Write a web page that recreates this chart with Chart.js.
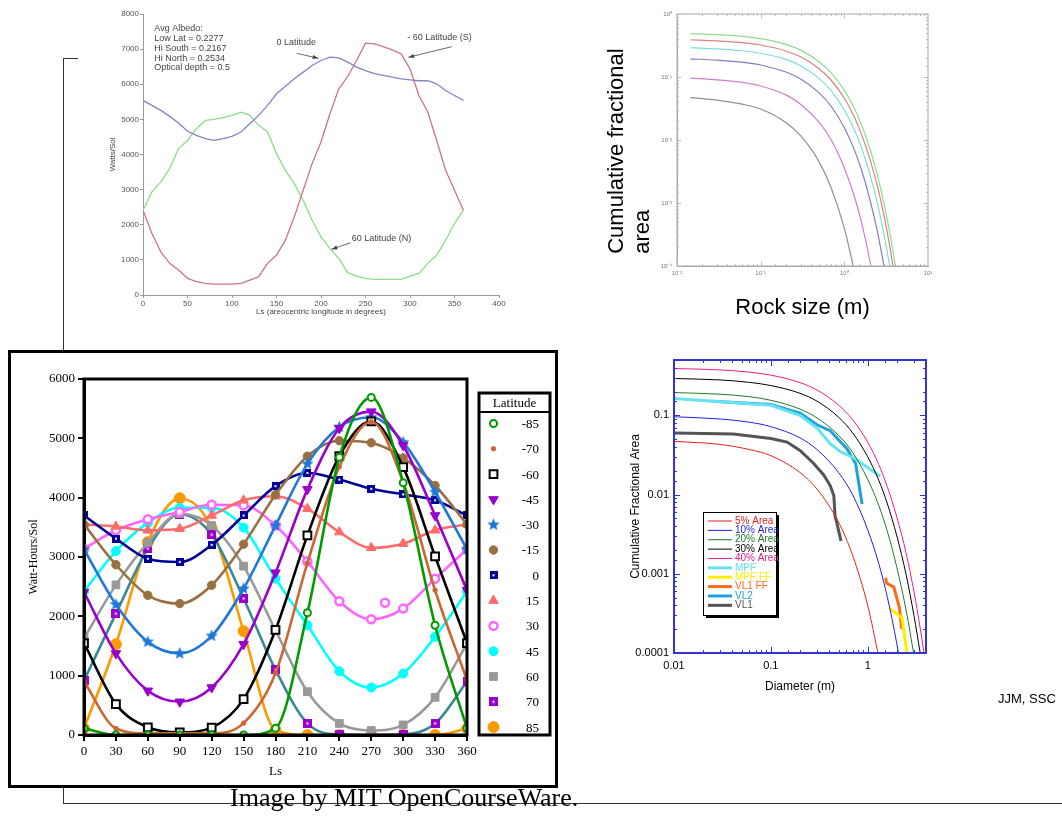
<!DOCTYPE html>
<html lang="en">
<head>
<meta charset="UTF-8" />
<title>Mars insolation and rock size distributions</title>
<script src="https://cdn.jsdelivr.net/npm/chart.js"></script>
<style>
  body { margin: 0; background: #fff; }
  #page { position: relative; width: 1062px; height: 821px; overflow: hidden; background: #fff; }
  canvas { position: absolute; }
  .rule { position: absolute; background: #333; }
  #frame { position: absolute; left: 8px; top: 350px; width: 550px; height: 438px; border: 3px solid #000; box-sizing: border-box; background: #fff; }
  #credit { position: absolute; left: 230px; top: 785px; font: 26px "Liberation Serif", serif; line-height: 1; color: #000; white-space: nowrap; }
  #initials { position: absolute; left: 998px; top: 691px; font: 13px "Liberation Sans", Arial, sans-serif; color: #000; white-space: nowrap; }
</style>
</head>
<body>
<div id="page">
  <div class="rule" style="left:63px; top:58px; width:1px; height:745px;"></div>
  <div class="rule" style="left:63px; top:58px; width:15px; height:1px;"></div>
  <div class="rule" style="left:63px; top:803px; width:999px; height:1px;"></div>
  <div id="frame"></div>
  <canvas id="insolation" width="420" height="320" style="left:100px; top:0px;"></canvas>
  <canvas id="rockTop" width="340" height="330" style="left:600px; top:0px;"></canvas>
  <canvas id="watts" width="542" height="430" style="left:12px; top:354px;"></canvas>
  <canvas id="rockBottom" width="462" height="360" style="left:600px; top:345px;"></canvas>
  <div id="initials">JJM, SSC</div>
  <div id="credit">Image by MIT OpenCourseWare.</div>
</div>

<script>
// ---------- top-left: Watts/Sol vs Ls ----------
const lsTen = [0,10,20,30,40,50,60,70,80,90,100,110,120,130,140,150,160,170,180,190,200,210,220,230,240,250,260,270,280,290,300,310,320,330,340,350,360];
const eq0 = [5540,5400,5255,5085,4895,4660,4545,4450,4400,4450,4517,4640,4877,5114,5400,5730,5940,6155,6345,6534,6676,6770,6750,6630,6490,6390,6300,6250,6200,6155,6127,6100,6100,6013,5823,5680,5540];
const south60 = [2415,1750,1230,900,710,475,380,330,312,312,312,330,425,520,900,1136,1560,2225,2980,3740,4356,5160,5870,6220,6676,7170,7150,7070,6980,6865,6440,5680,5210,4400,3550,2980,2415];
const north60 = [2415,2935,3220,3600,4167,4400,4735,4970,5000,5047,5114,5208,5114,4830,4640,4025,3550,3170,2700,2130,1657,1325,1040,635,540,475,445,445,445,445,540,615,900,1136,1560,2035,2415];
const albedoNote = ['Avg Albedo:', 'Low Lat = 0.2277', 'Hi South = 0.2167', 'Hi North = 0.2534', 'Optical depth = 0.5'];

// ---------- bottom-left: Watt-Hours/Sol vs Ls ----------
const ls = [0,30,60,90,120,150,180,210,240,270,300,330,360];
const lat85S = [112,0,0,0,0,0,112,2060,4680,5690,4250,1850,112];
const lat70S = [900,110,28,28,28,200,1040,2900,4520,5280,4260,2440,925];
const lat60S = [1550,520,130,45,125,605,1770,3365,4700,5285,4515,3010,1550];
const lat45S = [2410,1375,745,560,800,1530,2735,4140,5170,5450,4880,3700,2440];
const lat30S = [3130,2200,1570,1375,1670,2465,3530,4570,5190,5355,4935,4095,3130];
const lat15S = [3550,2870,2355,2215,2525,3215,4050,4700,4960,4925,4670,4205,3550];
const lat0 = [3700,3310,2970,2915,3205,3700,4195,4415,4305,4150,4055,3955,3700];
const lat15N = [3550,3515,3450,3475,3700,3955,4025,3815,3420,3155,3225,3450,3550];
const lat30N = [3140,3450,3635,3760,3880,3870,3530,2925,2255,1950,2130,2635,3130];
const lat45N = [2420,3100,3575,3830,3830,3495,2635,1850,1075,800,1035,1655,2420];
const lat60N = [1630,2530,3240,3730,3530,2845,1765,730,195,75,170,635,1540];
const lat70N = [920,2045,3140,3720,3375,2300,1100,195,10,0,10,195,900];
const lat85N = [110,1530,3250,3990,3490,1750,85,0,0,0,0,0,110];
const lat30NExtra = [{x: 283, y: 2230}];

// ---------- right: cumulative fractional area vs rock diameter ----------
const sizeTop = [0.0145,0.03,0.06,0.1,0.2,0.3,0.5,0.7,1,1.3,1.6,2,2.5,3,3.5,4,4.5];
const sizeBottom = [0.01,0.03,0.06,0.1,0.2,0.3,0.5,0.7,1,1.3,1.6,2,2.5,3,3.5,4,4.5];
const area5 = [0.047,0.043,0.037,0.031,0.019,0.0117,0.0045,0.0017,0.0004,0.00009,null,null,null,null,null,null,null];
const area10 = [0.096,0.09,0.082,0.072,0.052,0.037,0.019,0.0099,0.0036,0.00135,0.0005,0.00013,0.000025,null,null,null,null];
const area20 = [0.194,0.185,0.172,0.155,0.12,0.093,0.056,0.034,0.0156,0.0073,0.0034,0.0012,0.00034,0.000095,null,null,null];
const area30 = [0.292,0.28,0.261,0.238,0.19,0.151,0.095,0.06,0.03,0.0152,0.0076,0.003,0.00096,0.0003,0.000097,null,null];
const area40 = [0.39,0.375,0.351,0.322,0.259,0.209,0.135,0.088,0.046,0.024,0.0124,0.0052,0.0018,0.0006,0.0002,0.000068,null];
const area50 = [0.488,0.47,0.441,0.406,0.329,0.267,0.175,0.115,0.062,0.033,0.0175,0.0076,0.0027,0.00093,0.00033,0.000115,0.00004];

const mpfD = [0.01,0.1,0.2,0.3,0.41,0.52,0.72,1.35];
const mpfA = [0.163,0.134,0.1,0.069,0.044,0.035,0.029,0.017];
const mpfFFD = [1.66,2.25,2.55];
const mpfFFA = [0.00037,0.00028,0.0001];
const vl1FFD = [1.53,1.57,1.86,2.12,2.25];
const vl1FFA = [0.00089,0.00076,0.00068,0.00038,0.0002];
const vl2D = [0.025,0.1,0.2,0.3,0.41,0.61,0.75,0.875];
const vl2A = [0.151,0.137,0.107,0.076,0.064,0.038,0.0246,0.0076];
const vl1D = [0.01,0.041,0.1,0.147,0.2,0.277,0.35,0.41,0.447,0.46,0.48,0.53];
const vl1A = [0.06,0.058,0.051,0.046,0.036,0.0247,0.0178,0.013,0.0097,0.0054,0.0044,0.0026];

Chart.defaults.font.family = '"Liberation Sans", Arial, sans-serif';
Chart.defaults.animation = false;
Chart.defaults.responsive = false;
Chart.defaults.plugins.legend.display = false;
Chart.defaults.plugins.tooltip.enabled = false;

const H = Chart.helpers;
const pts = (xs, ys) => xs.map((x, i) => ({x, y: ys[i]}));
const plain = v => String(v);

// fix a scale's size so every plot area lands where it should
function fit(w, h) {
  return s => {
    if (w != null) s.width = w;
    if (h != null) s.height = h;
    s.paddingLeft = s.paddingRight = s.paddingTop = s.paddingBottom = 0;
  };
}

// closed frame around the plot area
const boxPlugin = {
  id: 'box',
  afterDatasetsDraw(chart, args, opts) {
    if (!opts.color) return;
    const {ctx, chartArea: a} = chart;
    ctx.save();
    ctx.strokeStyle = opts.color;
    ctx.lineWidth = opts.width;
    ctx.strokeRect(a.left, a.top, a.right - a.left, a.bottom - a.top);
    ctx.restore();
  }
};

// ticks pointing into the plot on all four sides (log axes)
const innerTicks = {
  id: 'innerTicks',
  afterDatasetsDraw(chart, args, opts) {
    if (!opts.color) return;
    const {ctx, chartArea: a, scales} = chart;
    const major = v => Math.abs(Math.log10(v) - Math.round(Math.log10(v))) < 1e-6;
    ctx.save();
    ctx.strokeStyle = opts.color;
    ctx.lineWidth = 1;
    ctx.beginPath();
    scales.x.ticks.forEach(t => {
      const p = Math.round(scales.x.getPixelForValue(t.value)) + 0.5;
      if (p < a.left || p > a.right) return;
      const len = major(t.value) ? opts.major : opts.minor;
      ctx.moveTo(p, a.bottom); ctx.lineTo(p, a.bottom - len);
      ctx.moveTo(p, a.top); ctx.lineTo(p, a.top + len);
    });
    scales.y.ticks.forEach(t => {
      const p = Math.round(scales.y.getPixelForValue(t.value)) + 0.5;
      if (p < a.top || p > a.bottom) return;
      const len = major(t.value) ? opts.major : opts.minor;
      ctx.moveTo(a.left, p); ctx.lineTo(a.left + len, p);
      ctx.moveTo(a.right, p); ctx.lineTo(a.right - len, p);
    });
    ctx.stroke();
    ctx.restore();
  }
};

// text notes and arrows placed in data units
const notesPlugin = {
  id: 'notes',
  afterDraw(chart, args, opts) {
    if (!opts.texts) return;
    const {ctx, scales: {x, y}} = chart;
    ctx.save();
    ctx.font = opts.font;
    ctx.fillStyle = opts.color;
    ctx.strokeStyle = opts.color;
    ctx.textBaseline = 'middle';
    opts.texts.forEach(t => {
      const px = x.getPixelForValue(t.at[0]), py = y.getPixelForValue(t.at[1]);
      t.lines.forEach((s, i) => ctx.fillText(s, px, py + i * opts.lineGap));
    });
    opts.arrows.forEach(ar => {
      const x0 = x.getPixelForValue(ar.from[0]), y0 = y.getPixelForValue(ar.from[1]);
      const x1 = x.getPixelForValue(ar.to[0]), y1 = y.getPixelForValue(ar.to[1]);
      const ang = Math.atan2(y1 - y0, x1 - x0);
      ctx.lineWidth = 0.8;
      ctx.beginPath(); ctx.moveTo(x0, y0); ctx.lineTo(x1, y1); ctx.stroke();
      ctx.beginPath();
      ctx.moveTo(x1, y1);
      ctx.lineTo(x1 - 6 * Math.cos(ang - 0.35), y1 - 6 * Math.sin(ang - 0.35));
      ctx.lineTo(x1 - 6 * Math.cos(ang + 0.35), y1 - 6 * Math.sin(ang + 0.35));
      ctx.closePath(); ctx.fill();
    });
    ctx.restore();
  }
};

// boxed latitude key with right aligned numbers
const latLegend = {
  id: 'latLegend',
  afterDraw(chart, args, opts) {
    if (!opts.box) return;
    const {ctx} = chart;
    const b = opts.box;
    ctx.save();
    ctx.fillStyle = '#fff';
    ctx.fillRect(b.x, b.y, b.w, b.h);
    ctx.strokeStyle = '#000';
    ctx.lineWidth = 3;
    ctx.strokeRect(b.x, b.y, b.w, b.h);
    ctx.lineWidth = 2;
    ctx.beginPath(); ctx.moveTo(b.x, b.y + 19); ctx.lineTo(b.x + b.w, b.y + 19); ctx.stroke();
    ctx.font = '13px "Liberation Serif", serif';
    ctx.fillStyle = '#000';
    ctx.textAlign = 'center';
    ctx.textBaseline = 'middle';
    ctx.fillText(opts.title, b.x + b.w / 2, b.y + 11);
    let row = 0;
    chart.data.datasets.forEach(ds => {
      if (ds.legendSkip) return;
      const yy = b.y + 30.5 + row * 25.3;
      ctx.fillStyle = ds.pointBackgroundColor;
      ctx.strokeStyle = ds.pointBorderColor;
      ctx.lineWidth = ds.pointBorderWidth;
      H.drawPoint(ctx, {pointStyle: ds.pointStyle, rotation: ds.pointRotation || 0, radius: ds.pointRadius, borderWidth: ds.pointBorderWidth}, b.x + 14.5, yy);
      ctx.fillStyle = '#000';
      ctx.textAlign = 'right';
      ctx.fillText(ds.label, b.x + b.w - 11, yy + 1);
      row++;
    });
    ctx.restore();
  }
};

// shadowed key with coloured labels
const areaLegend = {
  id: 'areaLegend',
  afterDraw(chart, args, opts) {
    if (!opts.box) return;
    const {ctx} = chart;
    const b = opts.box;
    ctx.save();
    ctx.fillStyle = '#000';
    ctx.fillRect(b.x + 3, b.y + 3, b.w, b.h);
    ctx.fillStyle = '#fff';
    ctx.fillRect(b.x, b.y, b.w, b.h);
    ctx.font = '10px "Liberation Sans", Arial, sans-serif';
    ctx.textBaseline = 'middle';
    chart.data.datasets.forEach((ds, i) => {
      const yy = b.y + 9 + i * 9.37;
      ctx.strokeStyle = ds.borderColor;
      ctx.lineWidth = ds.borderWidth;
      ctx.beginPath(); ctx.moveTo(b.x + 5, yy); ctx.lineTo(b.x + 29, yy); ctx.stroke();
      ctx.fillStyle = ds.borderColor;
      ctx.fillText(ds.label, b.x + 32, yy);
    });
    ctx.strokeStyle = '#000';
    ctx.lineWidth = 1;
    ctx.strokeRect(b.x + 0.5, b.y + 0.5, b.w, b.h);
    ctx.restore();
  }
};

const sup = {'-': '\u207B', '0': '\u2070', '1': '\u00B9', '2': '\u00B2', '3': '\u00B3', '4': '\u2074'};
function powLabel(v) {
  const e = Math.log10(v);
  if (Math.abs(e - Math.round(e)) > 1e-6) return '';
  return '10' + String(Math.round(e)).split('').map(c => sup[c]).join('');
}
function decLabel(v) {
  const e = Math.log10(v);
  if (Math.abs(e - Math.round(e)) > 1e-6) return '';
  return String(Number(v.toPrecision(1)));
}

function starMark(color, r) {
  const c = document.createElement('canvas');
  const s = Math.ceil(r * 2 + 2);
  c.width = c.height = s;
  const g = c.getContext('2d');
  g.fillStyle = color;
  g.beginPath();
  for (let k = 0; k < 10; k++) {
    const rr = k % 2 ? r * 0.45 : r;
    const a = -Math.PI / 2 + k * Math.PI / 5;
    g.lineTo(s / 2 + rr * Math.cos(a), s / 2 + rr * Math.sin(a));
  }
  g.closePath();
  g.fill();
  return c;
}

// filled square with a small white dot in the middle
function squareDot(color, side, dot) {
  const c = document.createElement('canvas');
  c.width = c.height = side;
  const g = c.getContext('2d');
  g.fillStyle = color;
  g.fillRect(0, 0, side, side);
  g.fillStyle = '#fff';
  g.fillRect((side - dot) / 2, (side - dot) / 2, dot, dot);
  return c;
}

// ---------- chart 1: top-left ----------
const thinLine = (label, ys, color) => ({
  label, data: pts(lsTen, ys), borderColor: color, borderWidth: 1.3, pointRadius: 0, tension: 0
});
new Chart(document.getElementById('insolation'), {
  type: 'line',
  data: {datasets: [
    thinLine('0 Latitude', eq0, '#8484cc'),
    thinLine('-60 Latitude (S)', south60, '#cc7585'),
    thinLine('60 Latitude (N)', north60, '#8cdc8c')
  ]},
  options: {
    layout: {padding: {top: 14, right: 21, left: 0, bottom: 0}},
    scales: {
      x: {
        type: 'linear', min: 0, max: 400,
        ticks: {stepSize: 50, maxRotation: 0, padding: 1, color: '#555', font: {size: 8}, callback: plain},
        grid: {drawOnChartArea: false, tickLength: 3, color: '#999'},
        border: {color: '#999'},
        title: {display: true, text: 'Ls (areocentric longitude in degrees)', color: '#444', font: {size: 8}, padding: {top: 0, bottom: 3}},
        afterFit: fit(null, 25)
      },
      y: {
        min: 0, max: 8000,
        ticks: {stepSize: 1000, padding: 1, color: '#555', font: {size: 8}, callback: plain},
        grid: {drawOnChartArea: false, tickLength: 3, color: '#999'},
        border: {color: '#999'},
        title: {display: true, text: 'Watts/Sol', color: '#444', font: {size: 8}, padding: {top: 8, bottom: 0}},
        afterFit: fit(43, null)
      }
    },
    plugins: {
      notes: {
        font: '9px "Liberation Sans", Arial, sans-serif', color: '#444', lineGap: 9.7,
        texts: [
          {at: [12.7, 7573], lines: albedoNote},
          {at: [150, 7194], lines: ['0 Latitude']},
          {at: [297, 7325], lines: ['- 60 Latitude (S)']},
          {at: [234.5, 1594], lines: ['60 Latitude (N)']}
        ],
        arrows: [
          {from: [172.7, 6880], to: [197, 6738]},
          {from: [347, 7070], to: [298.2, 6767]},
          {from: [233.3, 1489], to: [212, 1301]}
        ]
      }
    }
  },
  plugins: [notesPlugin]
});

// ---------- chart 2: top-right ----------
const pastel = (label, ys, color) => ({
  label, data: pts(sizeTop, ys), borderColor: color, borderWidth: 1.2, pointRadius: 0, cubicInterpolationMode: 'monotone', spanGaps: false
});
new Chart(document.getElementById('rockTop'), {
  type: 'line',
  data: {datasets: [
    pastel('50%', area50, '#8edc8e'),
    pastel('40%', area40, '#dc8080'),
    pastel('30%', area30, '#80dcdc'),
    pastel('20%', area20, '#8080c0'),
    pastel('10%', area10, '#cc80cc'),
    pastel('5%', area5, '#909090')
  ]},
  options: {
    layout: {padding: {top: 14, right: 12, left: 0, bottom: 0}},
    scales: {
      x: {
        type: 'logarithmic', min: 0.01, max: 10,
        ticks: {autoSkip: false, maxRotation: 0, padding: 4, color: '#777', font: {size: 6}, callback: powLabel},
        grid: {display: false, drawTicks: false},
        border: {color: '#aaa'},
        title: {display: true, text: 'Rock size (m)', color: '#000', font: {size: 22}, padding: {top: 0, bottom: 9}},
        afterFit: fit(null, 64)
      },
      y: {
        type: 'logarithmic', min: 0.0001, max: 1,
        ticks: {autoSkip: false, padding: 5, color: '#777', font: {size: 6}, callback: powLabel},
        grid: {display: false, drawTicks: false},
        border: {color: '#aaa'},
        title: {display: true, text: ['  Cumulative fractional', '  area'], align: 'start', color: '#000', font: {size: 22, lineHeight: 1.18}, padding: {top: 4, bottom: 0}},
        afterFit: fit(77, null)
      }
    },
    plugins: {
      box: {color: '#aaa', width: 1},
      innerTicks: {color: '#bbb', major: 4, minor: 2}
    }
  },
  plugins: [boxPlugin, innerTicks]
});

// ---------- chart 3: bottom-left ----------
function latSeries(label, ys, color, mark) {
  return Object.assign({
    label, data: pts(ls, ys),
    borderColor: color, borderWidth: 2.6, cubicInterpolationMode: 'monotone',
    pointStyle: 'circle', pointRadius: 4, pointBorderWidth: 1,
    pointBackgroundColor: color, pointBorderColor: color
  }, mark);
}
new Chart(document.getElementById('watts'), {
  type: 'line',
  data: {datasets: [
    latSeries('-85', lat85S, '#009a00', {pointRadius: 3.5, pointBorderWidth: 2, pointBackgroundColor: '#fff'}),
    latSeries('-70', lat70S, '#cc6633', {pointRadius: 2.2}),
    latSeries('-60', lat60S, '#000000', {pointStyle: 'rect', pointRadius: 5.5, pointBorderWidth: 2, pointBackgroundColor: '#fff'}),
    latSeries('-45', lat45S, '#9900cc', {pointStyle: 'triangle', pointRotation: 180, pointRadius: 5.5}),
    latSeries('-30', lat30S, '#1f78d8', {pointStyle: starMark('#1f78d8', 6.5), pointRadius: 6.5}),
    latSeries('-15', lat15S, '#9a7040', {pointRadius: 4.2}),
    latSeries('0', lat0, '#000099', {pointStyle: squareDot('#000099', 8, 2), pointRadius: 5}),
    latSeries('15', lat15N, '#ff6b6b', {pointStyle: 'triangle', pointRadius: 5.5}),
    latSeries('30', lat30N, '#ff66ff', {pointRadius: 4, pointBorderWidth: 2.5, pointBackgroundColor: '#fff'}),
    {label: '30', legendSkip: true, data: lat30NExtra, showLine: false, pointStyle: 'circle', pointRadius: 4,
     pointBorderWidth: 2.5, pointBackgroundColor: '#fff', pointBorderColor: '#ff66ff', borderColor: '#ff66ff'},
    latSeries('45', lat45N, '#00ffff', {pointRadius: 4.5}),
    latSeries('60', lat60N, '#999999', {pointStyle: 'rect', pointRadius: 5.5}),
    latSeries('70', lat70N, '#3a8896', {pointStyle: squareDot('#9900cc', 9, 2), pointRadius: 5, pointBackgroundColor: '#9900cc', pointBorderColor: '#9900cc'}),
    latSeries('85', lat85N, '#ff9900', {pointRadius: 5.5})
  ]},
  options: {
    layout: {padding: {top: 25, right: 87, left: 0, bottom: 0}},
    scales: {
      x: {
        type: 'linear', min: 0, max: 360,
        ticks: {stepSize: 30, maxRotation: 0, padding: 3, color: '#000', font: {family: '"Liberation Serif", serif', size: 13}, callback: plain},
        grid: {drawOnChartArea: false, tickLength: 6, lineWidth: 2, color: '#000'},
        border: {color: '#000', width: 3},
        title: {display: true, text: 'Ls', color: '#000', font: {family: '"Liberation Serif", serif', size: 13}, padding: {top: 0, bottom: 5}},
        afterFit: fit(null, 49)
      },
      y: {
        min: 0, max: 6000,
        ticks: {stepSize: 1000, padding: 3, color: '#000', font: {family: '"Liberation Serif", serif', size: 13}, callback: plain},
        grid: {drawOnChartArea: false, tickLength: 6, lineWidth: 2, color: '#000'},
        border: {color: '#000', width: 3},
        title: {display: true, text: 'Watt-Hours/Sol', color: '#000', font: {family: '"Liberation Serif", serif', size: 12}, padding: {top: 15, bottom: 0}},
        afterFit: fit(72, null)
      }
    },
    plugins: {
      box: {color: '#000', width: 3},
      latLegend: {title: 'Latitude', box: {x: 467, y: 39, w: 71, h: 342}}
    }
  },
  plugins: [boxPlugin, latLegend]
});

// ---------- chart 4: bottom-right ----------
const model = (label, ys, color) => ({
  label, data: pts(sizeBottom, ys), borderColor: color, borderWidth: 1, pointRadius: 0, cubicInterpolationMode: 'monotone'
});
const observed = (label, xs, ys, color) => ({
  label, data: pts(xs, ys), borderColor: color, borderWidth: 3, pointRadius: 0, tension: 0
});
new Chart(document.getElementById('rockBottom'), {
  type: 'line',
  data: {datasets: [
    model('5% Area', area5, '#e8211d'),
    model('10% Area', area10, '#1f1fe6'),
    model('20% Area', area20, '#1f7a2a'),
    model('30% Area', area30, '#000000'),
    model('40% Area', area40, '#ec1c86'),
    observed('MPF', mpfD, mpfA, '#66e2f0'),
    observed('MPF FF', mpfFFD, mpfFFA, '#ffee00'),
    observed('VL1 FF', vl1FFD, vl1FFA, '#ff6a1a'),
    observed('VL2', vl2D, vl2A, '#1ea2dc'),
    observed('VL1', vl1D, vl1A, '#555555')
  ]},
  options: {
    layout: {padding: {top: 15, right: 136, left: 0, bottom: 0}},
    scales: {
      x: {
        type: 'logarithmic', min: 0.01, max: 4,
        ticks: {autoSkip: false, maxRotation: 0, padding: 6, color: '#000', font: {size: 11}, callback: decLabel},
        grid: {display: false, drawTicks: false},
        border: {color: '#3434d0', width: 2},
        title: {display: true, text: 'Diameter (m)', color: '#000', font: {size: 12}, padding: {top: 0, bottom: 11}},
        afterFit: fit(null, 52)
      },
      y: {
        type: 'logarithmic', min: 0.0001, max: 0.5,
        ticks: {autoSkip: false, padding: 5, color: '#000', font: {size: 11}, callback: decLabel},
        grid: {display: false, drawTicks: false},
        border: {color: '#3434d0', width: 2},
        title: {display: true, text: 'Cumulative Fractional Area', color: '#000', font: {size: 12}, padding: {top: 28, bottom: 0}},
        afterFit: fit(74, null)
      }
    },
    plugins: {
      box: {color: '#3434d0', width: 2},
      innerTicks: {color: '#3434d0', major: 6, minor: 3},
      areaLegend: {box: {x: 103, y: 167, w: 73, h: 103}}
    }
  },
  plugins: [boxPlugin, innerTicks, areaLegend]
});
</script>
</body>
</html>
